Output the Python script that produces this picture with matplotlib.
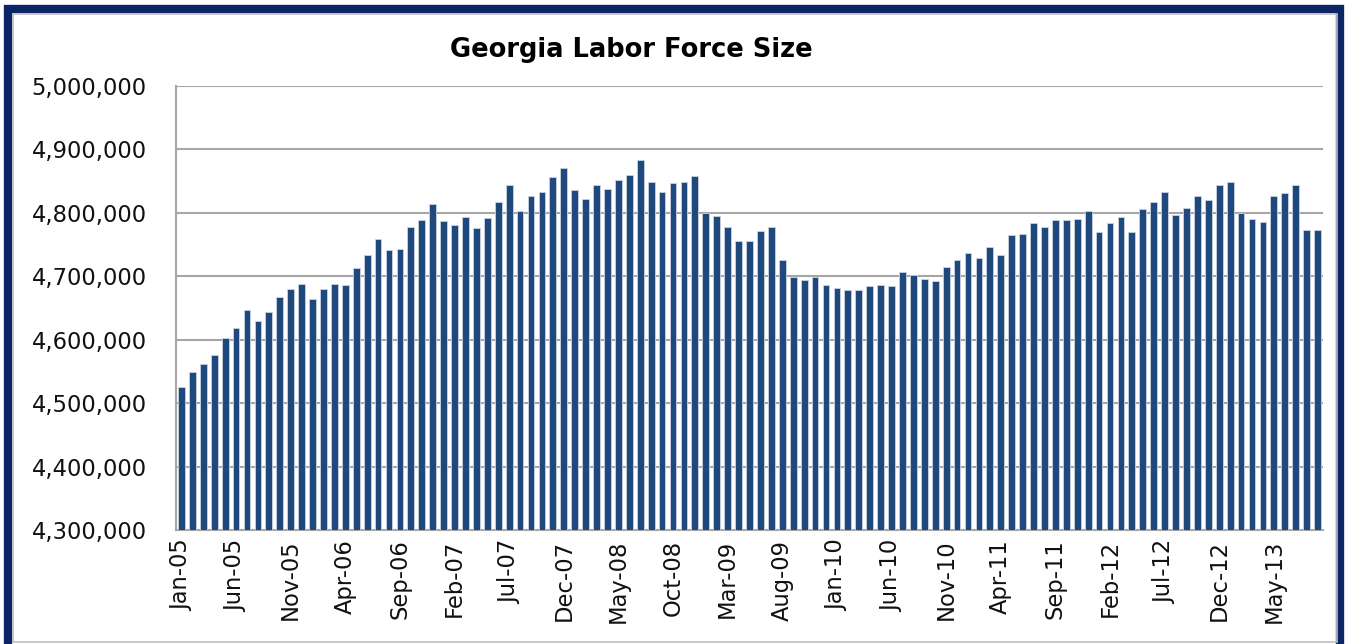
import numpy as np
import pandas as pd
import matplotlib
matplotlib.use("Agg")
import matplotlib.pyplot as plt
from matplotlib.patches import Rectangle
from matplotlib.ticker import FuncFormatter


# monthly labor force, Jan-05 .. Sep-13
START_MONTH = "2005-01"
labor_force = [
    4526000, 4549000, 4561000, 4575000, 4602000, 4619000, 4646000, 4630000, 4644000, 4667000,
    4679000, 4688000, 4664000, 4680000, 4688000, 4686000, 4712000, 4733000, 4758000, 4741000,
    4742000, 4777000, 4789000, 4814000, 4787000, 4780000, 4793000, 4776000, 4791000, 4816000,
    4843000, 4803000, 4826000, 4833000, 4856000, 4870000,
    4835000, 4822000, 4843000, 4837000, 4851000, 4860000, 4883000, 4848000, 4833000, 4846000,
    4848000, 4858000, 4800000, 4794000, 4777000, 4756000, 4756000, 4771000, 4778000, 4726000,
    4698000, 4694000, 4699000, 4686000, 4682000, 4678000, 4678000, 4684000, 4686000, 4684000,
    4707000, 4702000, 4696000, 4692000, 4715000,
    4725000, 4736000, 4728000, 4746000, 4733000, 4764000, 4767000, 4783000, 4777000, 4788000,
    4788000, 4790000, 4802000, 4769000, 4783000, 4793000, 4769000, 4806000, 4816000, 4833000,
    4796000, 4808000, 4827000, 4820000, 4843000, 4848000, 4800000, 4790000, 4785000, 4827000,
    4831000, 4843000, 4773000, 4773000,
]
months = pd.period_range(START_MONTH, periods=len(labor_force), freq="M")
month_labels = [m.strftime("%b-%y") for m in months]

BAR_COLOR = "#1F497D"
GRID_COLOR = "#A6A6A6"

fig = plt.figure(figsize=(13.48, 6.44), dpi=100)
ax = fig.add_axes([176 / 1348, 1 - 530 / 644, (1323 - 176) / 1348, (530 - 85.7) / 644])

x = np.arange(len(labor_force))
ax.bar(x, labor_force, width=0.62, color=BAR_COLOR, edgecolor="#C9D3E3", linewidth=0.6, zorder=3)

ax.set_xlim(-0.5, len(labor_force) - 0.5)
ax.set_ylim(4300000, 5000000)
ax.set_yticks(np.arange(4300000, 5000001, 100000))
ax.yaxis.set_major_formatter(FuncFormatter(lambda v, p: f"{int(v):,}"))

tick_idx = x[::5]
ax.set_xticks(tick_idx)
ax.set_xticklabels([month_labels[i] for i in tick_idx], rotation=90)

ax.tick_params(axis="both", length=0, labelsize=16.3, colors="#111111")
ax.tick_params(axis="x", pad=7)
ax.tick_params(axis="y", pad=21)
ax.grid(axis="y", color=GRID_COLOR, linewidth=1.5, zorder=0)

for side in ["top", "right"]:
    ax.spines[side].set_visible(False)
for side in ["left", "bottom"]:
    ax.spines[side].set_color(GRID_COLOR)
    ax.spines[side].set_linewidth(1.5)

fig.text(631 / 1348, 1 - 50 / 644, "Georgia Labor Force Size", ha="center", va="center",
         fontsize=18.5, fontweight="bold", family="DejaVu Sans")

# navy frame around the chart
fig.patches.append(Rectangle((8 / 1348, -20 / 644), 1332 / 1348, 1 + 11 / 644, transform=fig.transFigure,
                             fill=False, edgecolor="#0B2566", linewidth=6))
fig.patches.append(Rectangle((13 / 1348, 2.5 / 644), 1324 / 1348, 1 - 16.5 / 644, transform=fig.transFigure,
                             fill=False, edgecolor="#BFBFBF", linewidth=1.2))

plt.savefig("out.png", dpi=100)
